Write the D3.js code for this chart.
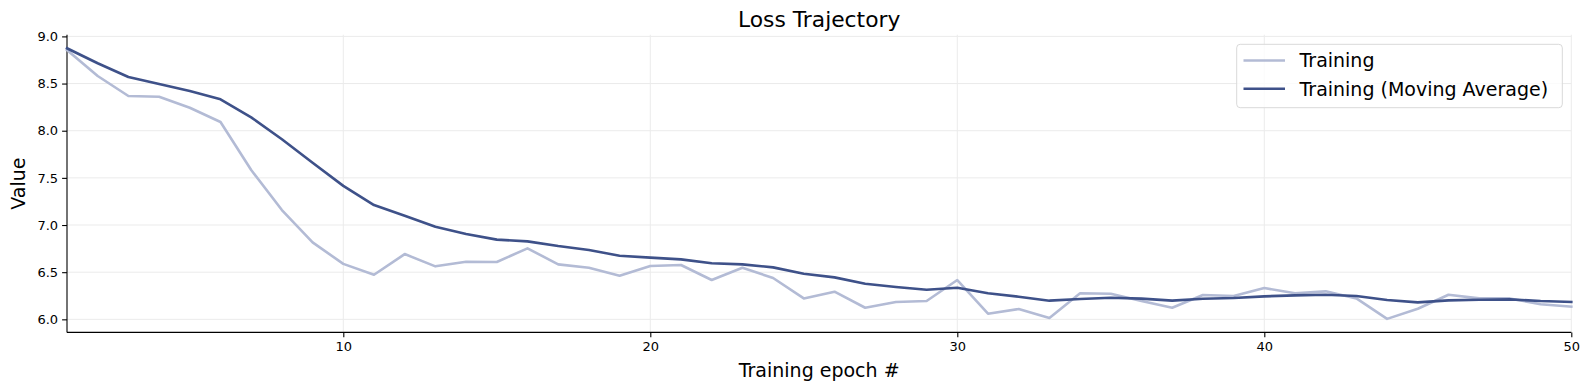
<!DOCTYPE html>
<html>
<head>
<meta charset="utf-8">
<script src="https://cdn.jsdelivr.net/npm/d3@7"></script>
<style>
  html, body { margin: 0; padding: 0; background: #fff; }
  svg { display: block; font-family: "DejaVu Sans", sans-serif; }
</style>
</head>
<body>
<svg id="chart" width="1590" height="390"></svg>
<script>
// ---- data ----
const epochs = d3.range(1, 51);
const training = [
  8.856, 8.580, 8.368, 8.360, 8.244, 8.092, 7.583, 7.159, 6.816, 6.588,
  6.473, 6.692, 6.562, 6.611, 6.608, 6.753, 6.583, 6.547, 6.463, 6.565,
  6.576, 6.417, 6.547, 6.438, 6.222, 6.293, 6.123, 6.184, 6.194, 6.417,
  6.060, 6.109, 6.015, 6.276, 6.272, 6.195, 6.123, 6.258, 6.247, 6.332,
  6.276, 6.297, 6.222, 6.005, 6.112, 6.261, 6.222, 6.222, 6.160, 6.134
];
const movingAverage = [
  8.874, 8.715, 8.570, 8.495, 8.420, 8.333, 8.142, 7.909, 7.661, 7.415,
  7.212, 7.099, 6.982, 6.905, 6.845, 6.827, 6.777, 6.735, 6.675, 6.654,
  6.636, 6.594, 6.583, 6.551, 6.484, 6.445, 6.378, 6.343, 6.314, 6.335,
  6.276, 6.240, 6.198, 6.215, 6.229, 6.220, 6.198, 6.219, 6.226, 6.244,
  6.254, 6.261, 6.247, 6.205, 6.180, 6.201, 6.208, 6.212, 6.194, 6.184
];
const xTicks = [10, 20, 30, 40, 50];
const yTicks = [6.0, 6.5, 7.0, 7.5, 8.0, 8.5, 9.0];
const seriesNames = ["Training", "Training (Moving Average)"];
const seriesColors = ["#b3bbd5", "#3e5189"];
const titleText = "Loss Trajectory";
const xLabel = "Training epoch #";
const yLabel = "Value";

// ---- layout ----
const pL = 67, pR = 1571.3, pT = 34.75, pB = 332.4;
const svg = d3.select("#chart");

const all = training.concat(movingAverage);
const lo = d3.min(all), hi = d3.max(all), pad = (hi - lo) * 0.05;
const x = d3.scaleLinear().domain([1, 50]).range([pL, pR]);
const y = d3.scaleLinear().domain([lo - pad, hi + pad]).range([pB, pT]);

// grid
const grid = svg.append("g");
grid.selectAll("line.gy").data(yTicks).join("line")
  .attr("x1", pL).attr("x2", pR)
  .attr("y1", d => y(d)).attr("y2", d => y(d))
  .attr("stroke", "#ebebeb").attr("stroke-width", 1);
grid.selectAll("line.gx").data(xTicks).join("line")
  .attr("y1", pT).attr("y2", pB)
  .attr("x1", d => x(d)).attr("x2", d => x(d))
  .attr("stroke", "#ebebeb").attr("stroke-width", 1);

// axes
const xAxis = d3.axisBottom(x).tickValues(xTicks).tickSize(4.9).tickPadding(4).tickFormat(d3.format("d"));
const yAxis = d3.axisLeft(y).tickValues(yTicks).tickSize(4.9).tickPadding(4).tickFormat(d3.format(".1f"));

const gx = svg.append("g").attr("transform", `translate(0,${pB})`).call(xAxis);
const gy = svg.append("g").attr("transform", `translate(${pL},0)`).call(yAxis);
[gx, gy].forEach(g => {
  g.select(".domain").attr("stroke", "#000").attr("stroke-width", 1.1);
  g.selectAll(".tick line").attr("stroke", "#000").attr("stroke-width", 1.1);
  g.selectAll(".tick text").attr("fill", "#000")
    .style("font-family", "DejaVu Sans").style("font-size", "13px");
});
gx.select(".domain").attr("d", `M${pL},0H${pR}`);
gy.select(".domain").attr("d", `M0,${pB}V${pT}`);

// lines
const line = d3.line().x((d, i) => x(epochs[i])).y(d => y(d));
[training, movingAverage].forEach((s, k) => {
  svg.append("path").datum(s)
    .attr("d", line)
    .attr("fill", "none")
    .attr("stroke", seriesColors[k])
    .attr("stroke-width", 2.6)
    .attr("stroke-linejoin", "round")
    .attr("stroke-linecap", "square");
});

// title and labels
svg.append("text").attr("x", (pL + pR) / 2).attr("y", 27)
  .attr("text-anchor", "middle").style("font-size", "21.8px").attr("fill", "#000")
  .text(titleText);
svg.append("text").attr("x", (pL + pR) / 2).attr("y", 377)
  .attr("text-anchor", "middle").style("font-size", "19px").attr("fill", "#000")
  .text(xLabel);
svg.append("text").attr("transform", `translate(25,${(pT + pB) / 2}) rotate(-90)`)
  .attr("text-anchor", "middle").style("font-size", "19px").attr("fill", "#000")
  .text(yLabel);

// legend
const lg = svg.append("g");
lg.append("rect").attr("x", 1236.7).attr("y", 44.3).attr("width", 325.6).attr("height", 63.4)
  .attr("rx", 3.5).attr("ry", 3.5)
  .attr("fill", "#fff").attr("fill-opacity", 0.8)
  .attr("stroke", "#d9d9d9").attr("stroke-width", 1);
seriesNames.forEach((name, k) => {
  const cy = 60.5 + k * 28.2;
  lg.append("line").attr("x1", 1243.5).attr("x2", 1285).attr("y1", cy).attr("y2", cy)
    .attr("stroke", seriesColors[k]).attr("stroke-width", 2.6);
  lg.append("text").attr("x", 1299.5).attr("y", cy).attr("dy", "0.36em")
    .style("font-size", "19px").attr("fill", "#000").text(name);
});
</script>
</body>
</html>
